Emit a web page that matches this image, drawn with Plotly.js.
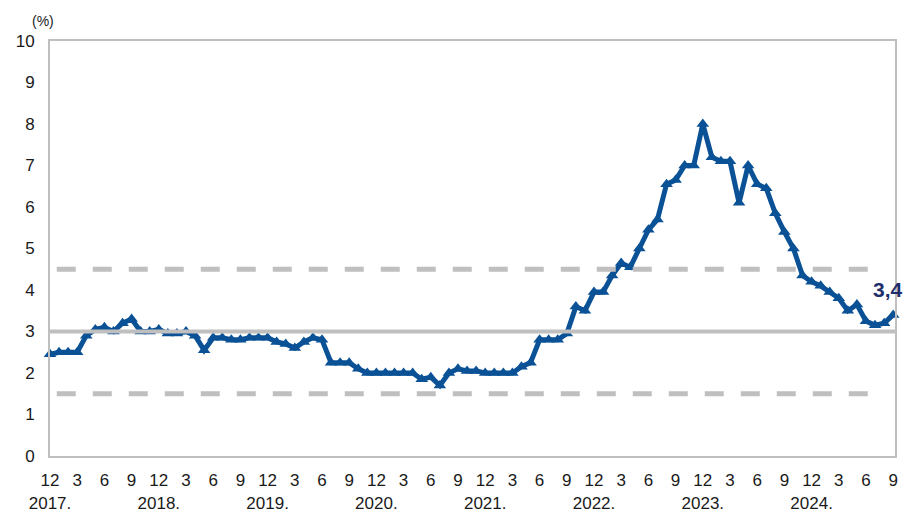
<!DOCTYPE html>
<html>
<head>
<meta charset="utf-8">
<script src="https://cdn.plot.ly/plotly-3.0.1.min.js"></script>
<style>html,body{margin:0;padding:0;background:#fff;}#chart{width:908px;height:515px;}</style>
</head>
<body>
<div id="chart"></div>
<script>
// Monthly values, one point per month, first = 12/2017
const monthIndex = Array.from({length: 94}, (_, i) => i);
const values = [
  2.45, 2.5, 2.5, 2.5, 2.9, 3.05, 3.1, 3.0, 3.2, 3.3,
  3.0, 3.0, 3.05, 2.95, 2.95, 3.0, 2.9, 2.55, 2.85, 2.85,
  2.8, 2.8, 2.85, 2.85, 2.85, 2.75, 2.7, 2.6, 2.75, 2.85,
  2.8, 2.25, 2.25, 2.25, 2.1, 2.0, 2.0, 2.0, 2.0, 2.0,
  2.0, 1.85, 1.9, 1.7, 2.0, 2.1, 2.05, 2.05, 2.0, 2.0,
  2.0, 2.0, 2.15, 2.25, 2.8, 2.8, 2.8, 2.95, 3.6, 3.5,
  3.95, 3.95, 4.35, 4.65, 4.55, 5.0, 5.45, 5.7, 6.55, 6.65,
  7.0, 7.0, 8.0, 7.2, 7.1, 7.1, 6.1, 7.0, 6.55, 6.45,
  5.85, 5.4, 5.0, 4.35, 4.2, 4.1, 3.95, 3.8, 3.5, 3.65,
  3.25, 3.15, 3.2, 3.4
];
const tickPositions = [0,3,6,9,12,15,18,21,24,27,30,33,36,39,42,45,48,51,54,57,60,63,66,69,72,75,78,81,84,87,90,93];
const monthLabels = ["12","3","6","9","12","3","6","9","12","3","6","9","12","3","6","9","12","3","6","9","12","3","6","9","12","3","6","9","12","3","6","9"];
const yearLabels = {0:"2017.",12:"2018.",24:"2019.",36:"2020.",48:"2021.",60:"2022.",72:"2023.",84:"2024."};
const target = 3;
const bandLow = 1.5;
const bandHigh = 4.5;
const lastLabel = "3,4";

const tickText = tickPositions.map((p, k) => yearLabels[p] ? monthLabels[k] + "<br>" + yearLabels[p] : monthLabels[k]);

const blue = "#0a5196";
const grey = "#bfbfbf";

const trace = {
  x: monthIndex, y: values, type: "scatter", mode: "lines+markers",
  line: {color: blue, width: 5},
  marker: {symbol: "triangle-up", size: 11, color: blue},
  cliponaxis: false, hoverinfo: "skip"
};

const layout = {
  width: 908, height: 515,
  margin: {l: 50, r: 13, t: 41, b: 59},
  paper_bgcolor: "#fff", plot_bgcolor: "#fff",
  showlegend: false,
  font: {family: "Liberation Sans, Arial, sans-serif", size: 17, color: "#1a1a1a"},
  xaxis: {
    range: [0, 93.2], tickmode: "array", tickvals: tickPositions, ticktext: tickText,
    tickangle: 0, automargin: false,
    showgrid: false, zeroline: false, showline: true, linecolor: grey, linewidth: 2, mirror: true,
    ticks: "outside", ticklen: 8, tickcolor: "rgba(0,0,0,0)",
    tickfont: {size: 17}
  },
  yaxis: {
    range: [0, 10], dtick: 1, tick0: 0, automargin: false,
    showgrid: false, zeroline: false, showline: true, linecolor: grey, linewidth: 2, mirror: true,
    ticks: "outside", ticklen: 10, tickcolor: "rgba(0,0,0,0)",
    tickfont: {size: 17}
  },
  shapes: [
    {type: "line", xref: "paper", x0: 0, x1: 1, yref: "y", y0: target, y1: target, layer: "above",
     line: {color: grey, width: 4}},
    {type: "line", xref: "paper", x0: 0.008, x1: 0.985, yref: "y", y0: bandLow, y1: bandLow, layer: "above",
     line: {color: grey, width: 5, dash: "19px,17px"}},
    {type: "line", xref: "paper", x0: 0.008, x1: 0.985, yref: "y", y0: bandHigh, y1: bandHigh, layer: "above",
     line: {color: grey, width: 5, dash: "19px,17px"}}
  ],
  annotations: [
    {x: monthIndex[monthIndex.length - 1], y: values[values.length - 1], xref: "x", yref: "y",
     text: "<b>" + lastLabel + "</b>", showarrow: false, xshift: -5, yshift: 25,
     font: {size: 21, color: "#1f2f6b"}},
    {xref: "paper", yref: "paper", x: 0, y: 1, xshift: -20, yshift: 20, xanchor: "left", yanchor: "middle",
     text: "(%)", showarrow: false, font: {size: 14, color: "#1a1a1a"}}
  ]
};

Plotly.newPlot("chart", [trace], layout, {displayModeBar: false, staticPlot: true});
</script>
</body>
</html>
